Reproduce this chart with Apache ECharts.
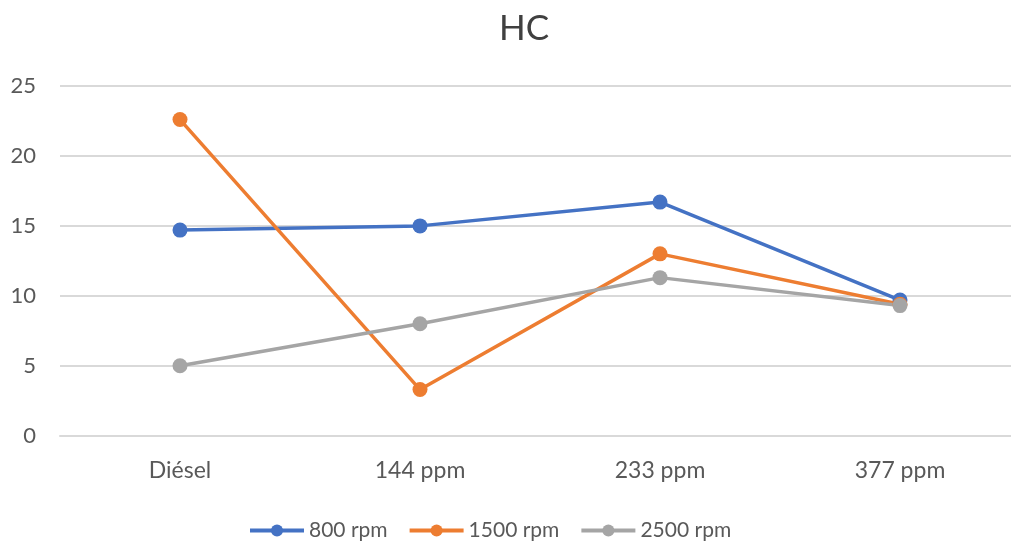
<!DOCTYPE html>
<html><head><meta charset="utf-8">
<script src="https://cdn.jsdelivr.net/npm/echarts@6/dist/echarts.min.js"></script>
<style>html,body{margin:0;padding:0;background:#fff;overflow:hidden;width:1011px;height:542px}#c{width:1020px;height:542px}</style>
</head><body><div id="c"></div>
<script>
const categories = ['Diésel', '144 ppm', '233 ppm', '377 ppm'];
const rpm800 = [14.7, 15.0, 16.7, 9.7];
const rpm1500 = [22.6, 3.3, 13.0, 9.4];
const rpm2500 = [5.0, 8.0, 11.3, 9.3];
const seriesNames = ['800 rpm', '1500 rpm', '2500 rpm'];
const yTicks = [0, 5, 10, 15, 20, 25];

const font = 'Lato, "Open Sans", sans-serif';
const colors = ['#4472C4', '#ED7D31', '#A5A5A5'];
const chart = echarts.init(document.getElementById('c'));
const mk = (name, data, color) => ({
  name, type: 'line', data,
  symbol: 'circle', symbolSize: 15,
  lineStyle: { width: 3.5, color },
  itemStyle: { color },
  animation: false
});
chart.setOption({
  animation: false,
  textStyle: { fontFamily: font },
  title: {
    text: 'HC', left: 494, top: 6,
    textStyle: { fontFamily: font, fontSize: 35, fontWeight: 'normal', color: '#404040' }
  },
  legend: {
    top: 515, left: 243,
    itemWidth: 54, itemHeight: 15, itemGap: 20,
    lineStyle: { width: 4 },
    textStyle: { fontFamily: font, fontSize: 21, color: '#595959' },
    data: seriesNames
  },
  grid: { left: 60, top: 86, right: 0, height: 349.7, containLabel: false },
  xAxis: {
    type: 'category', data: categories, boundaryGap: true,
    axisLine: { lineStyle: { color: '#D9D9D9', width: 2 } },
    axisTick: { show: false },
    axisLabel: { fontFamily: font, fontSize: 23, color: '#595959', margin: 23 }
  },
  yAxis: {
    type: 'value', min: yTicks[0], max: yTicks[yTicks.length - 1], interval: 5,
    axisLine: { show: false }, axisTick: { show: false },
    splitLine: { lineStyle: { color: '#D9D9D9', width: 2 } },
    axisLabel: { fontFamily: font, fontSize: 22, color: '#595959', margin: 24 }
  },
  series: [
    mk(seriesNames[0], rpm800, colors[0]),
    mk(seriesNames[1], rpm1500, colors[1]),
    mk(seriesNames[2], rpm2500, colors[2])
  ]
});
</script></body></html>
